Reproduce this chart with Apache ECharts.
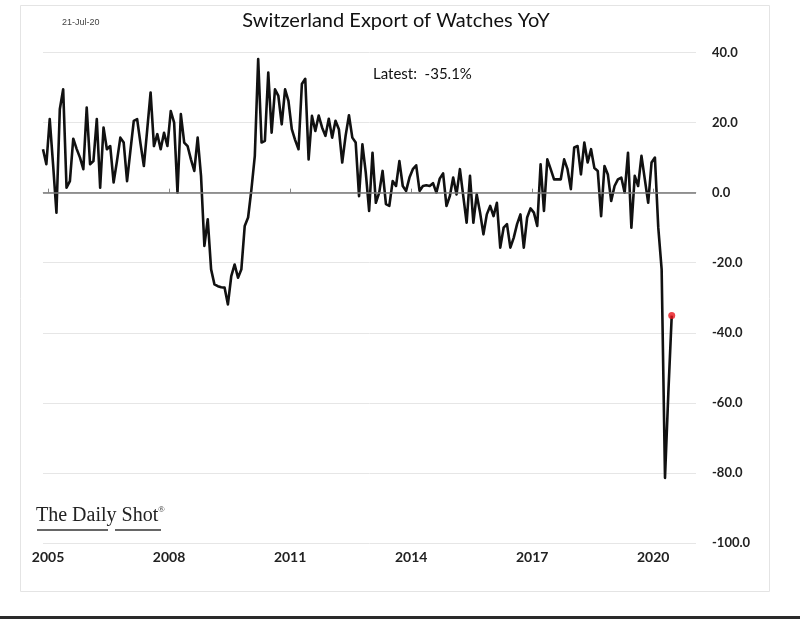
<!DOCTYPE html>
<html><head><meta charset="utf-8">
<script src="https://cdn.jsdelivr.net/npm/echarts@6/dist/echarts.min.js"></script>
<style>html,body{margin:0;padding:0;background:#fff;}#c{width:800px;height:619px;}</style>
</head><body><div id="c"></div>
<script>
// ---- data (monthly YoY %, first month Nov 2004, last Jun 2020) ----
const firstMonth = [2004, 11];
const yoy = [
  12.4, 8.1, 21, 8, -5.7, 23.8, 29.5, 1.4, 3.3, 15.4, 12.5, 10,
  6.7, 24.3, 8.1, 9, 21, 1.4, 18.6, 12.4, 13.3, 2.9, 9, 15.7,
  14.3, 3.3, 12, 20.5, 21, 14, 7.6, 18, 28.6, 13.3, 16.7, 12.4,
  17.1, 13.3, 23.3, 20, 0, 22.4, 14.3, 13.3, 9.5, 6.2, 15.7, 4.8,
  -15.2, -7.6, -21.9, -26.2, -26.7, -27, -27.1, -31.9, -23.8, -20.5, -24.3, -21.9,
  -9.5, -7.1, 1, 10.5, 38.1, 14.3, 14.8, 34.3, 17.1, 29.5, 27.6, 19.5,
  29.5, 26.2, 18.1, 15, 12.4, 31, 32.5, 9.5, 21.9, 17.6, 22, 18.6,
  16.2, 21.1, 15.7, 20.5, 18.1, 8.6, 16.2, 22.1, 15.7, 14.3, -1, 13.8,
  5.7, -5.2, 11.4, -2.9, 0, 6.2, -3.3, -3.8, 3.3, 1.9, 9, 1.9,
  0.5, 4.3, 6.7, 7.8, 0.5, 1.9, 2.1, 1.9, 2.7, 0, 4, 5.5,
  -3.8, -1, 4.3, -0.5, 6.7, -1, -8.6, 4.8, -8.6, -0.5, -5.7, -11.9,
  -6.2, -3.8, -6.7, -2.9, -15.7, -10, -9, -15.7, -12.9, -9, -6.2, -15.7,
  -7.1, -4.5, -5.7, -9.5, 8.1, -5.2, 9.5, 6.7, 3.8, 3.8, 3.8, 9.5,
  6.7, 1, 12.9, 13.3, 5.2, 14.3, 8.6, 12.4, 7, 6.2, -6.7, 7.6,
  5.2, -2.4, 1.9, 3.8, 4.3, 0, 11.4, -10, 4.8, 1.9, 10.5, 3.8,
  -2.9, 8.6, 10, -10, -21.9, -81.4, -57, -35.1
];
const yearTicks = [2005, 2008, 2011, 2014, 2017, 2020];
const yMin = -100, yMax = 40, yStep = 20;
const titleText = 'Switzerland Export of Watches YoY';
const latestText = 'Latest:  -35.1%';
const dateStamp = '21-Jul-20';
const sourceText = 'The Daily Shot';

// month index -> decimal year (mid-month)
const pts = yoy.map((v, i) => {
  const m = firstMonth[1] - 1 + i;
  const yr = firstMonth[0] + Math.floor(m / 12);
  return [yr + ((m % 12) + 0.5) / 12, v];
});
const xMin = pts[0][0];

const chart = echarts.init(document.getElementById('c'), null, {renderer: 'canvas'});
chart.setOption({
  backgroundColor: '#ffffff',
  animation: false,
  title: [
    {text: titleText, left: 391, top: 6, textAlign: 'center',
     textStyle: {fontFamily: 'Lato', fontWeight: 'normal', fontSize: 20, color: '#111'}},
    {text: latestText, left: 368, top: 62,
     textStyle: {fontFamily: 'Lato', fontWeight: 'normal', fontSize: 15, color: '#111'}},
    {text: dateStamp, left: 57, top: 13,
     textStyle: {fontFamily: 'Liberation Sans Narrow, Liberation Sans', fontWeight: 'normal', fontSize: 9, color: '#444'}}
  ],
  grid: {left: 43, right: 104, top: 52.5, bottom: 76},
  xAxis: {
    type: 'value', min: xMin, max: 2021.06,
    axisLine: {show: true, lineStyle: {color: '#d8d8d8', width: 1}},
    axisTick: {show: true, inside: true, length: 4, customValues: yearTicks, lineStyle: {color: '#888'}},
    axisLabel: {customValues: yearTicks, formatter: v => String(Math.round(v)), margin: 7,
      fontFamily: 'Lato', fontWeight: 'bold', fontSize: 14, color: '#222'},
    splitLine: {show: false}
  },
  yAxis: {
    type: 'value', position: 'right', min: yMin, max: yMax, interval: yStep,
    axisLine: {show: false}, axisTick: {show: false},
    axisLabel: {formatter: v => v.toFixed(1), margin: 16,
      fontFamily: 'Lato', fontWeight: 'bold', fontSize: 13, color: '#222'},
    splitLine: {show: true, lineStyle: {color: '#e6e6e6', width: 1}}
  },
  series: [
    {type: 'line', data: pts, showSymbol: false, symbol: 'none',
     lineStyle: {color: '#111', width: 2.6, join: 'round'}, z: 3,
     markLine: {silent: true, symbol: 'none', label: {show: false},
       lineStyle: {color: '#777', width: 1.5, type: 'solid'}, data: [{yAxis: 0}]}},
    {type: 'scatter', data: [pts[pts.length - 1]], symbol: 'circle', symbolSize: 7,
     itemStyle: {color: '#e8141b'}, z: 5}
  ],
  graphic: [
    {type: 'rect', shape: {x: 20.5, y: 5.5, width: 749, height: 586}, silent: true, z: -1,
     style: {fill: 'none', stroke: '#e4e4e4', lineWidth: 1}},
    {type: 'rect', shape: {x: 0, y: 616, width: 800, height: 3}, silent: true,
     style: {fill: '#2a2a2a'}},
    {type: 'text', left: 36, top: 506, silent: true,
     style: {text: sourceText, font: '20px "Liberation Serif"', fill: '#222'}},
    {type: 'text', left: 158, top: 505, silent: true,
     style: {text: '®', font: '9px "Liberation Serif"', fill: '#333'}},
    {type: 'line', shape: {x1: 37, y1: 530, x2: 108, y2: 530}, silent: true,
     style: {stroke: '#666', lineWidth: 2}},
    {type: 'line', shape: {x1: 115, y1: 530, x2: 161, y2: 530}, silent: true,
     style: {stroke: '#666', lineWidth: 2}}
  ]
});
</script>
</body></html>
